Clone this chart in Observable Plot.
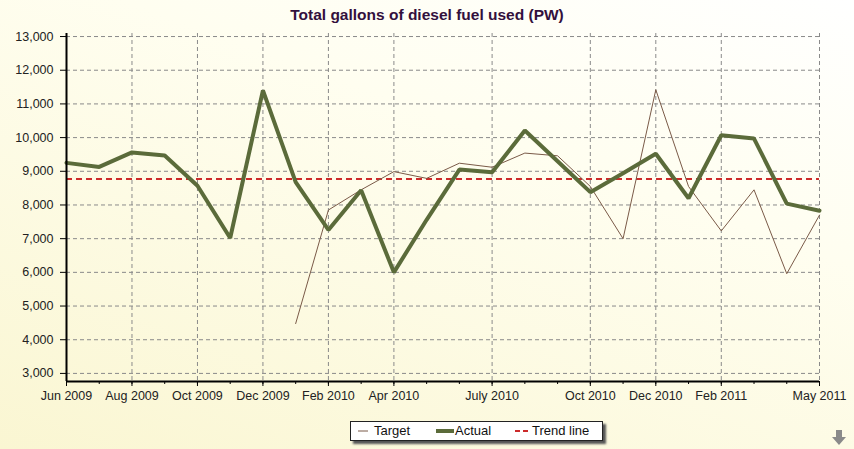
<!DOCTYPE html>
<html>
<head>
<meta charset="utf-8">
<script src="https://cdn.jsdelivr.net/npm/d3@7"></script>
<script src="https://cdn.jsdelivr.net/npm/@observablehq/plot@0.6"></script>
<style>
  html, body { margin: 0; padding: 0; }
  #wrap {
    position: relative; width: 854px; height: 449px; overflow: hidden;
    background: linear-gradient(200deg, #ffffff 0%, #fffef0 35%, #faf6d2 100%);
    font-family: "Liberation Sans", Arial, sans-serif;
  }
  #title {
    position: absolute; left: 0; width: 854px; top: 7px; text-align: center; line-height: 1;
    font-weight: bold; font-size: 15.5px; color: #33103d;
  }
  #legend {
    position: absolute; left: 350px; top: 421px; width: 251px; height: 18px;
    background: #ffffff; border: 1px solid #222; box-shadow: 3px 3px 2px #555;
    font-size: 13px; color: #111;
  }
  #legend .item { display: flex; align-items: center; position: absolute; top: 1px; }
  #legend svg { display: block; }
  #arrow { position: absolute; left: 831px; top: 430px; }
  svg.plot { position: absolute; left: 0; top: 0; }
</style>
</head>
<body>
<div id="wrap">
  <div id="title">Total gallons of diesel fuel used (PW)</div>
  <div id="chart"></div>
  <div id="legend">
    <div class="item" style="left:5px"><svg width="14" height="14"><line x1="2" x2="12" y1="7" y2="7" stroke="#7a5a48" stroke-width="1"/></svg><span style="margin-left:4px">Target</span></div>
    <div class="item" style="left:84px"><svg width="20" height="14"><line x1="1" x2="19" y1="7" y2="7" stroke="#5b6b3a" stroke-width="4"/></svg><span>Actual</span></div>
    <div class="item" style="left:163px"><svg width="18" height="14"><line x1="1" x2="17" y1="7" y2="7" stroke="#cc2a2a" stroke-width="2" stroke-dasharray="5,3"/></svg><span>Trend line</span></div>
  </div>
  <svg id="arrow" width="16" height="17"><polygon points="5,0 11,0 11,7 15,7 8,15 1,7 5,7" fill="#8a8a8a"/></svg>
</div>
<script>
const months = ["Jun 2009","Jul 2009","Aug 2009","Sep 2009","Oct 2009","Nov 2009","Dec 2009",
  "Jan 2010","Feb 2010","Mar 2010","Apr 2010","May 2010","Jun 2010","Jul 2010","Aug 2010","Sep 2010",
  "Oct 2010","Nov 2010","Dec 2010","Jan 2011","Feb 2011","Mar 2011","Apr 2011","May 2011"];
const actual = [9250, 9130, 9560, 9470, 8570, 7020, 11400, 8680, 7260, 8440, 6000, 7560,
  9050, 8970, 10210, 9300, 8380, 8940, 9520, 8200, 10070, 9970, 8040, 7830];
const target = [null, null, null, null, null, null, null, 4480, 7850, 8450, 8990, 8790,
  9240, 9120, 9540, 9460, 8550, 7000, 11420, 8550, 7230, 8450, 5960, 7700];
const trendValue = 8770;
const tickMonths = ["Jun 2009","Aug 2009","Oct 2009","Dec 2009","Feb 2010","Apr 2010",
  "Jul 2010","Oct 2010","Dec 2010","Feb 2011","May 2011"];
const tickLabels = ["Jun 2009","Aug 2009","Oct 2009","Dec 2009","Feb 2010","Apr 2010",
  "July 2010","Oct 2010","Dec 2010","Feb 2011","May 2011"];
const yTicks = [3000,4000,5000,6000,7000,8000,9000,10000,11000,12000,13000];
const yDomain = [2760, 13090];

const rows = months.map((m, i) => ({i, month: m, actual: actual[i], target: target[i]}));
const monthIdx = months.map((m, i) => i);
const tickIdx = tickMonths.map(m => months.indexOf(m));
const labelOf = new Map(tickIdx.map((k, j) => [k, tickLabels[j]]));

const plot = Plot.plot({
  width: 854,
  height: 449,
  marginLeft: 66,
  marginRight: 35,
  marginTop: 33,
  marginBottom: 68,
  style: {background: "transparent", fontSize: "12.5px", fontFamily: "'Liberation Sans', Arial, sans-serif", color: "#222"},
  x: {type: "linear", domain: [0, months.length - 1], inset: 0},
  y: {domain: yDomain, inset: 0},
  marks: [
    Plot.gridY(yTicks, {stroke: "#8a8a8a", strokeOpacity: 1, strokeDasharray: "4,3"}),
    Plot.gridX(tickIdx, {stroke: "#8a8a8a", strokeOpacity: 1, strokeDasharray: "4,3"}),
    Plot.axisY(yTicks, {tickFormat: d3.format(","), tickSize: 6, tickPadding: 7, stroke: "#000", fontSize: 12.5, label: null}),
    Plot.axisX(monthIdx, {tickSize: 3, tickFormat: () => "", stroke: "#000", label: null}),
    Plot.axisX(tickIdx, {tickSize: 5, tickPadding: 5, tickFormat: d => labelOf.get(d), stroke: "#000", fontSize: 12.5, label: null}),
    Plot.ruleY([trendValue], {stroke: "#cc2a2a", strokeWidth: 2, strokeDasharray: "6,4"}),
    Plot.lineY(rows.filter(d => d.target != null), {x: "i", y: "target", stroke: "#7a5a48", strokeWidth: 1}),
    Plot.lineY(rows, {x: "i", y: "actual", stroke: "#5b6b3a", strokeWidth: 4, strokeLinejoin: "miter"}),
    Plot.ruleX([0], {stroke: "#000", strokeWidth: 2}),
    Plot.ruleY([yDomain[0]], {stroke: "#000", strokeWidth: 2})
  ]
});
plot.classList.add("plot");
document.getElementById("chart").appendChild(plot);
</script>
</body>
</html>
